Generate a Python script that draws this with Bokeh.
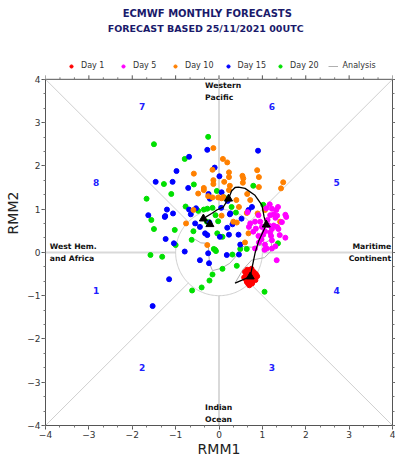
from bokeh.plotting import figure
from bokeh.models import Range1d, LinearAxis, Legend, LegendItem, SingleIntervalTicker
from bokeh.core.properties import value
from bokeh.embed import file_html
from bokeh.resources import INLINE
import numpy as np

# ---------------- data ----------------
day1_x = [0.60, 0.65, 0.70, 0.75, 0.80, 0.85, 0.62, 0.68, 0.72, 0.78, 0.82, 0.66, 0.70, 0.74, 0.78,
          0.64, 0.72, 0.76, 0.70, 0.58, 0.88, 0.74, 0.68, 0.80, 0.66, 0.76, 0.62, 0.84, 0.71, 0.73,
          0.69, 0.77, 0.63, 0.81, 0.67]
day1_y = [-0.45, -0.40, -0.42, -0.38, -0.45, -0.50, -0.55, -0.50, -0.48, -0.52, -0.58, -0.60, -0.58, -0.62, -0.65,
          -0.68, -0.70, -0.72, -0.76, -0.58, -0.55, -0.55, -0.64, -0.60, -0.47, -0.45, -0.62, -0.64, -0.66, -0.52,
          -0.44, -0.69, -0.50, -0.53, -0.72]

day5_x = [1.17, 1.22, 1.36, 1.32, 1.53, 1.55, 1.26, 1.34, 1.18, 1.09, 0.66, 0.91, 1.30, 0.83, 0.95,
          0.72, 0.99, 1.14, 1.26, 1.34, 1.22, 1.37, 1.06, 1.18, 1.20, 1.02, 0.91, 0.79, 0.69, 0.92,
          1.06, 1.10, 1.22, 1.53, 1.33, 1.05, 0.83, 1.22, 1.30, 0.98, 1.45, 0.85, 1.12, 1.40]
day5_y = [1.11, 1.01, 1.05, 0.98, 0.87, 0.82, 0.88, 0.85, 0.86, 1.02, 0.93, 0.86, 0.80, 0.71, 0.71,
          0.67, 0.59, 0.63, 0.62, 0.59, 0.54, 0.54, 0.49, 0.46, 0.38, 0.41, 0.38, 0.48, 0.59, 0.23,
          0.18, 0.09, 0.09, 0.34, -0.18, 0.06, 0.09, 0.28, 0.14, 0.30, 0.70, 0.55, 0.75, 0.40]

day10_x = [-0.13, 0.09, 0.19, -0.15, 0.23, 0.88, 0.23, 0.54, 0.56, 0.92, -0.58, -0.13, -0.13, 0.12, 0.25,
           0.55, 1.48, 1.43, 0.92, -0.35, -0.35, 0.23, -0.48, -0.15, -0.02, 0.10, 0.06, 0.40, 0.65, 0.72,
           0.46, 0.64, 0.89, 1.06, 1.41, 0.68, 0.60, -0.76, -0.27, -0.59, -0.25, 0.06, 0.33, 0.41]
day10_y = [2.41, 2.16, 2.08, 1.91, 1.85, 1.90, 1.74, 1.77, 1.71, 1.74, 1.82, 1.67, 1.58, 1.63, 1.54,
           1.61, 1.62, 1.48, 1.51, 1.49, 1.44, 1.44, 1.36, 1.27, 1.27, 1.28, 1.25, 1.21, 1.35, 1.21,
           1.05, 0.91, 0.90, 0.98, 0.71, 0.44, 0.23, 0.67, 0.17, 0.98, 1.30, 0.85, 0.71, 0.69]

day15_x = [-0.27, 0.90, -0.69, -0.98, -0.10, 0.01, -1.46, -1.07, -0.71, -0.24, -0.21, 0.06, 0.20, -1.20, -1.06,
           -0.69, -0.53, -0.65, -1.63, -1.24, 0.76, 0.68, 0.26, 0.05, 0.25, 0.52, 0.19, 0.31, 0.02, 0.23,
           0.45, 0.49, 0.18, 0.46, -1.25, -0.55, -0.44, -0.32, -0.27, -1.23, -1.04, -0.79, -0.25, -0.44, -0.23,
           -1.15, -1.53, -0.22]
day15_y = [2.37, 2.35, 2.21, 1.88, 1.96, 1.76, 1.63, 1.63, 1.49, 1.35, 1.24, 1.39, 1.19, 0.99, 0.90,
           0.99, 1.02, 0.88, 0.86, 0.84, 1.05, 0.98, 0.90, 1.03, 0.88, 0.78, 0.57, 0.65, 0.36, 0.41,
           0.41, 0.18, -0.06, -0.05, 0.82, 0.67, 0.59, 0.44, 0.40, 0.31, 0.21, 0.02, -0.02, -0.18, -0.25,
           -0.62, -1.24, 0.69]

day20_x = [-1.50, -0.25, -0.79, -0.58, -1.27, -0.05, -1.10, -1.67, -0.77, -0.48, -0.35, -0.27, -0.15, 0.79, 0.12,
           1.02, 0.39, 0.29, 1.36, 1.05, -0.09, 0.08, 0.41, -0.08, -0.02, 0.08, 0.31, 0.64, 0.49, -1.56,
           -1.50, -1.02, -1.00, -0.63, -0.59, -1.58, -1.31, -0.15, -0.22, -0.40, -0.62, -0.04, -0.12, -0.07, -0.28]
day20_y = [2.50, 2.67, 2.16, 1.57, 1.58, 1.42, 1.35, 1.24, 1.06, 0.96, 0.99, 1.01, 1.03, 1.54, 1.27,
           1.10, 0.92, 1.05, 0.21, -0.91, 0.06, -0.38, -0.31, 0.86, 0.72, 0.36, -0.05, 0.08, 0.08, 0.75,
           0.54, 0.52, 0.17, 0.29, 0.49, -0.06, -0.10, -0.51, -0.65, -0.81, -0.88, 0.44, 0.08, 0.03, 0.71]

mean_x = [0.37, 0.72, 0.83, 0.91, 1.09, 1.04, 0.99, 0.83, 0.60, 0.45, 0.37, 0.29, 0.22, 0.10, -0.05,
          -0.17, -0.30, -0.36, -0.30, -0.21, -0.15, -0.21]
mean_y = [-0.71, -0.56, -0.02, 0.25, 0.64, 0.82, 1.09, 1.32, 1.48, 1.51, 1.50, 1.42, 1.24, 1.05, 0.98,
          0.90, 0.82, 0.78, 0.68, 0.64, 0.66, 0.65]
tri_x = [0.72, 1.09, 0.22, -0.36, -0.21]
tri_y = [-0.56, 0.64, 1.24, 0.78, 0.65]

ana_x = [-0.55, -0.42, -0.25, -0.22, -0.15, 0.05, 0.25, 0.40, 0.50, 0.75, 0.95, 1.20, 1.22, 1.05, 0.75, 0.55, 0.37]
ana_y = [0.30, 0.22, 0.21, -0.25, -0.42, -0.37, -0.25, -0.08, 0.14, 0.12, 0.16, 0.30, 0.05, -0.12, -0.18, -0.40, -0.71]

phase_labels = ["1", "2", "3", "4", "5", "6", "7", "8"]
phase_x = [-2.83, -1.77, 1.22, 2.71, 2.71, 1.22, -1.77, -2.83]
phase_y = [-0.89, -2.66, -2.66, -0.89, 1.62, 3.38, 3.38, 1.62]

region_text = ["Western\nPacific", "West Hem.\nand Africa", "Indian\nOcean"]
region_x = [-0.32, -3.9, -0.32]
region_y = [3.72, 0.0, -3.72]
region_right_text = ["Maritime\nContinent"]
region_right_x = [3.97]
region_right_y = [0.0]

title_lines = ["ECMWF MONTHLY FORECASTS", "FORECAST  BASED 25/11/2021 00UTC"]
legend_labels = ["Day 1", "Day 5", "Day 10", "Day 15", "Day 20", "Analysis"]
series_colors = ["#ff0000", "#ff00ff", "#ff8000", "#0000ff", "#00e000"]

FONT = "DejaVu Sans"

# ---------------- layout constants (pixels) ----------------
W, H = 395, 459
LEFT, RIGHT, BOTTOM = 45, 3, 33
PX = (W - LEFT - RIGHT) / 8.0            # pixels per RMM unit
FRAME_H = H - BOTTOM
Y_END = -4 + FRAME_H / PX                # frame extends above the diagram for the header

p = figure(width=W, height=H, x_range=Range1d(-4, 4), y_range=Range1d(-4, Y_END),
           output_backend="svg", toolbar_location=None,
           min_border_left=LEFT, min_border_right=RIGHT, min_border_top=0, min_border_bottom=BOTTOM)
p.xgrid.visible = False
p.ygrid.visible = False
p.outline_line_color = None
p.title.visible = False

# header titles above the diagram box
p.text([-0.27], [4 + 66 / PX], text=[title_lines[0]], text_font=value(FONT),
       text_font_style="bold", text_font_size="10px", text_color="#1a1a6b",
       text_align="center", text_baseline="middle")
p.text([-0.27], [4 + 51 / PX], text=[title_lines[1]], text_font=value(FONT),
       text_font_style="bold", text_font_size="9.5px", text_color="#1a1a6b",
       text_align="center", text_baseline="middle")

# top border of diagram with outward ticks
p.segment(x0=[-4], y0=[4], x1=[4], y1=[4], line_color="#555555", line_width=1)
major = np.arange(-4, 5)
minor = np.array([v for v in np.arange(-4, 4.01, 1 / 3.0) if abs(v - round(v)) > 1e-6])
p.segment(x0=major, y0=4, x1=major, y1=4 + 4 / PX, line_color="#555555", line_width=1)
p.segment(x0=minor, y0=4, x1=minor, y1=4 + 2 / PX, line_color="#777777", line_width=1)

# background geometry
bg = "#d9d9d9"
p.segment(x0=[1, -1, 0, 0], y0=[0, 0, 1, -1], x1=[4, -4, 0, 0], y1=[0, 0, 4, -4],
          line_color=bg, line_width=2)
r2 = np.sqrt(0.5)
p.segment(x0=[r2, -r2, r2, -r2], y0=[r2, r2, -r2, -r2], x1=[4, -4, 4, -4], y1=[4, 4, -4, -4],
          line_color="#cfcfcf", line_width=1)
th = np.linspace(0, 2 * np.pi, 200)
p.line(np.cos(th), np.sin(th), line_color="#cfcfcf", line_width=1)

r_ana = p.line(ana_x, ana_y, line_color="#b0b0b0", line_width=1)

pt = 5
r20 = p.scatter(day20_x, day20_y, size=pt, color=series_colors[4])
r15 = p.scatter(day15_x, day15_y, size=pt, color=series_colors[3])
r10 = p.scatter(day10_x, day10_y, size=pt, color=series_colors[2])
r5 = p.scatter(day5_x, day5_y, size=pt, color=series_colors[1])
r1 = p.scatter(day1_x, day1_y, size=pt, color=series_colors[0])

p.line(mean_x, mean_y, line_color="black", line_width=1.3)
p.scatter(tri_x, tri_y, marker="triangle", size=8, color="black")

p.text(phase_x, phase_y, text=phase_labels, text_color="#2020ff", text_font=value(FONT),
       text_font_style="bold", text_font_size="9px", text_align="center", text_baseline="middle")
p.text(region_x, region_y, text=region_text, text_color="#111111", text_font=value(FONT),
       text_font_style="bold", text_font_size="7.7px", text_align="left", text_baseline="middle",
       text_line_height=1.4)
p.text(region_right_x, region_right_y, text=region_right_text, text_color="#111111",
       text_font=value(FONT), text_font_style="bold", text_font_size="7.7px", text_align="right",
       text_baseline="middle", text_line_height=1.4)

# ---------------- axes ----------------
for ax in [p.xaxis[0], p.yaxis[0]]:
    ax.ticker = SingleIntervalTicker(interval=1, num_minor_ticks=3)
    ax.bounds = (-4, 4)
    ax.major_tick_in = 0
    ax.major_tick_out = 4
    ax.minor_tick_in = 0
    ax.minor_tick_out = 2
    ax.axis_line_color = "#555555"
    ax.major_tick_line_color = "#555555"
    ax.minor_tick_line_color = "#777777"
    ax.major_label_text_font = FONT
    ax.major_label_text_font_size = "9px"
    ax.major_label_text_color = "#333333"
    ax.major_label_standoff = 1
    ax.axis_label_text_font = FONT
    ax.axis_label_text_font_size = "14px"
    ax.axis_label_text_font_style = "normal"
    ax.axis_label_text_color = "#222222"
p.xaxis[0].axis_label = "RMM1"
p.xaxis[0].axis_label_standoff = 0
p.yaxis[0].axis_label = "RMM2"
p.yaxis[0].axis_label_standoff = 3

ra = LinearAxis(ticker=SingleIntervalTicker(interval=1, num_minor_ticks=3), bounds=(-4, 4))
ra.major_tick_in = 0
ra.major_tick_out = 3
ra.minor_tick_in = 0
ra.minor_tick_out = 2
ra.axis_line_color = "#555555"
ra.major_tick_line_color = "#555555"
ra.minor_tick_line_color = "#777777"
ra.major_label_overrides = {i: "" for i in range(-4, 7)}
ra.major_label_standoff = 0
p.add_layout(ra, "right")

# ---------------- legend (inside the header band of the frame) ----------------
legend = Legend(items=[LegendItem(label=lab, renderers=[r]) for lab, r in
                       zip(legend_labels, [r1, r5, r10, r15, r20, r_ana])],
                orientation="horizontal", location=(21, int(8 * PX + 14 - 6)))
legend.label_text_font = FONT
legend.label_text_font_size = "8px"
legend.label_text_color = "#333333"
legend.glyph_width = 10
legend.glyph_height = 8
legend.label_height = 8
legend.label_width = 28
legend.label_standoff = 5
legend.spacing = 9
legend.padding = 2
legend.margin = 0
legend.border_line_color = None
legend.background_fill_alpha = 0
p.add_layout(legend, "center")

open("out.html", "w").write(file_html(p, INLINE))
